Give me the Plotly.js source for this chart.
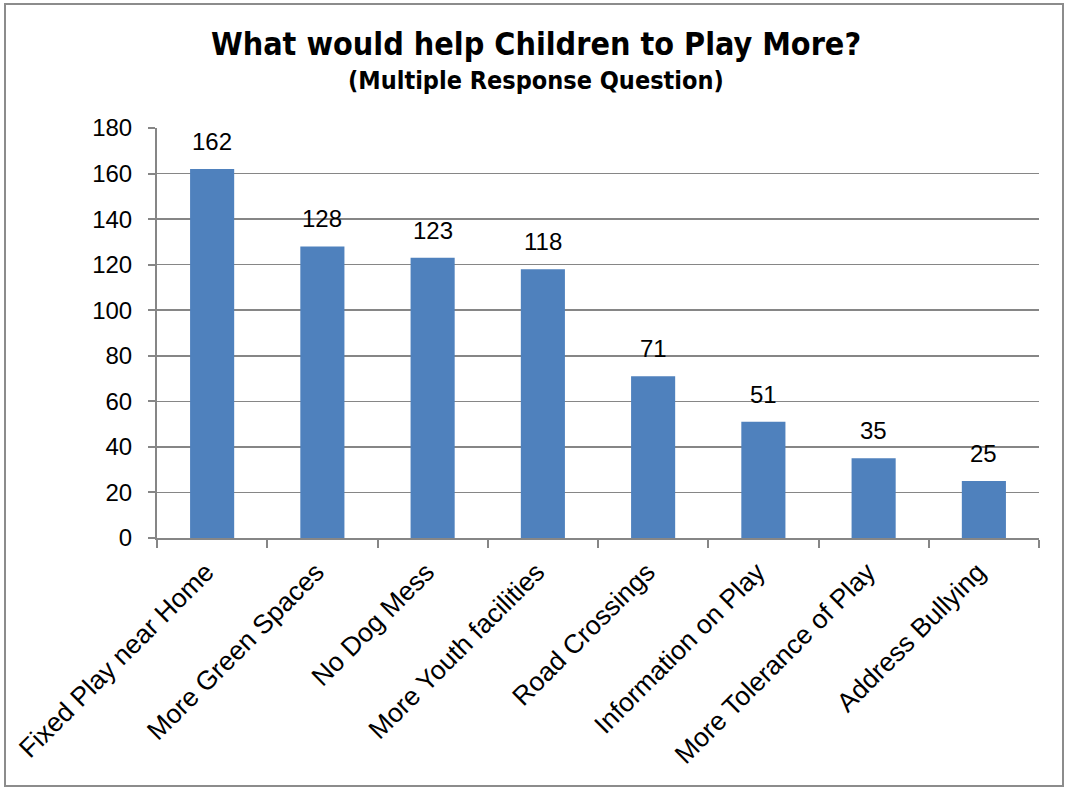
<!DOCTYPE html>
<html><head><meta charset="utf-8">
<script src="https://cdn.plot.ly/plotly-3.0.1.min.js"></script>
<style>
body{margin:0;padding:0;background:#fff;}
#wrap{position:relative;width:1067px;height:787px;}
#chart{width:1067px;height:787px;}
#frame{position:absolute;left:4px;top:3px;width:1056px;height:780px;border:2px solid #8c8c8c;pointer-events:none;}
</style></head>
<body>
<div id="wrap"><div id="chart"></div><div id="frame"></div></div>
<script>
const categories = ["Fixed Play near Home","More Green Spaces","No Dog Mess","More Youth facilities","Road Crossings","Information on Play","More Tolerance of Play","Address Bullying"];
const values = [162,128,123,118,71,51,35,25];
const yTicks = [0,20,40,60,80,100,120,140,160,180];
const titleText = 'What would help Children to Play More?';
const subtitleText = '(Multiple Response Question)';

const numFont = {family:'Liberation Sans, Arial, sans-serif', size:24, color:'#000'};

const trace = {
  type:'bar', x:categories, y:values,
  marker:{color:'#4F81BD'},
  hoverinfo:'none'
};
const labelAnns = categories.map((c,i)=>({
  x:c, y:values[i], xref:'x', yref:'y', text:String(values[i]),
  showarrow:false, yanchor:'bottom', yshift:12, font:numFont
}));
const layout = {
  width:1067, height:787,
  margin:{l:157, r:28, t:128, b:249},
  paper_bgcolor:'#fff', plot_bgcolor:'#fff',
  bargap:0.6,
  showlegend:false,
  title:{
    text:'<b>'+titleText+'</b>',
    font:{family:'DejaVu Sans Condensed, DejaVu Sans, sans-serif', size:32, color:'#000'},
    x:536/1067, xref:'container', xanchor:'center', y:1-44/787, yanchor:'middle'
  },
  annotations:[{
    text:'<b>'+subtitleText+'</b>', xref:'paper', yref:'paper', x:(536-157)/882, y:(538-81)/410,
    xanchor:'center', yanchor:'middle', showarrow:false,
    font:{family:'DejaVu Sans Condensed, DejaVu Sans, sans-serif', size:25, color:'#000'}
  }].concat(labelAnns),
  xaxis:{
    type:'category', tickangle:-45,
    tickfont:{family:'Liberation Sans, Arial, sans-serif', size:26.5, color:'#000'},
    showline:true, linecolor:'#868686', linewidth:2,
    ticks:'outside', tickson:'boundaries', ticklen:8, tickcolor:'#868686', tickwidth:2,
    ticklabelstandoff:6, ticklabelshift:-6,
    showgrid:false, zeroline:false
  },
  yaxis:{
    range:[0,180], tickvals:yTicks, ticktext:yTicks.map(String),
    tickfont:numFont,
    showline:true, linecolor:'#868686', linewidth:2,
    ticks:'outside', ticklen:7, tickcolor:'#868686', tickwidth:2,
    ticklabelstandoff:11,
    showgrid:true, gridcolor:'#868686', gridwidth:1.5, zeroline:false
  }
};
Plotly.newPlot('chart',[trace],layout,{staticPlot:true});
</script>
</body></html>
